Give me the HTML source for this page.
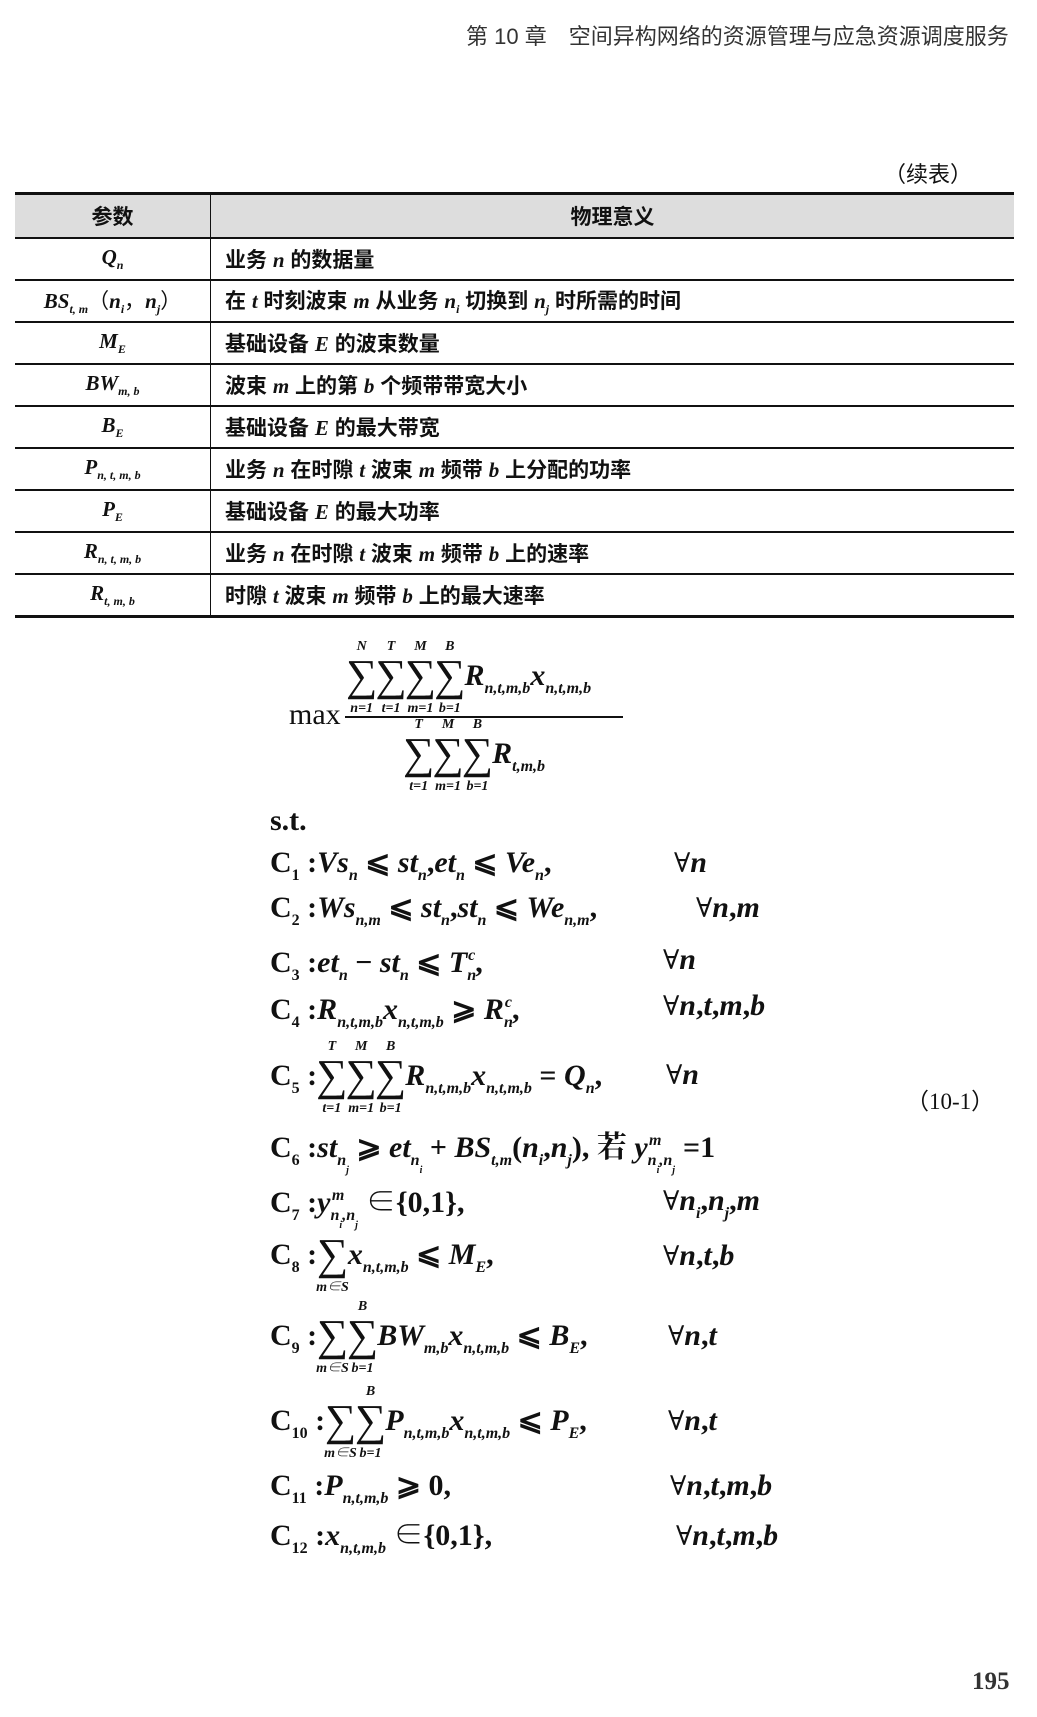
<!DOCTYPE html>
<html><head><meta charset="utf-8">
<style>
body{margin:0;width:1037px;height:1717px;background:#fff;position:relative;overflow:hidden;color:#111;font-family:"Liberation Serif","Noto Sans CJK SC",serif;}
.abs{position:absolute;white-space:nowrap;}
.hdr{font-family:"Liberation Sans","Noto Sans CJK SC",sans-serif;font-size:22px;color:#333;}
.cj{font-family:"Liberation Sans","Noto Sans CJK SC",sans-serif;}
table{position:absolute;left:15px;top:192px;width:999px;border-collapse:collapse;}
td{height:40px;border-bottom:2px solid #111;font-size:21px;padding:0;}
tr.h td{background:#ddd;height:42px;border-top:3px solid #111;text-align:center;font-family:"Liberation Sans","Noto Sans CJK SC",sans-serif;font-weight:bold;}
td.a{width:195px;border-right:1.5px solid #111;text-align:center;}
td.b{padding-left:14px;font-family:"Liberation Sans","Noto Sans CJK SC",sans-serif;font-weight:bold;}
tr:last-child td{border-bottom:3px solid #111;}
i.m{font-family:"Liberation Serif",serif;font-style:italic;font-weight:bold;font-size:21px;}
i.m sub{font-size:12px;}
.eq{font-size:30px;font-weight:bold;font-family:"Liberation Serif","Noto Serif CJK SC",serif;}
.eq i{font-style:italic;}
.eq sub{font-size:16px;vertical-align:-8px;font-style:italic;}
.eq sup{font-size:16px;vertical-align:12px;font-style:italic;}
.fa{font-family:"DejaVu Serif",serif;font-weight:normal;font-size:27px;}
.s{display:inline-flex;flex-direction:column;align-items:center;vertical-align:middle;line-height:1;margin:0 -1px;}
.s b{font-size:44px;font-weight:normal;line-height:36px;height:36px;}
.s i.u{font-size:14px;font-style:italic;height:14px;margin-bottom:4px;}
.s i.l{font-size:14px;font-style:italic;height:14px;margin-top:8px;}
.c{line-height:36px;}
</style></head><body>
<div class="abs hdr" style="left:466px;top:19px;">第 10 章　空间异构网络的资源管理与应急资源调度服务</div>
<div class="abs cj" style="left:884px;top:157px;font-size:22px;">（续表）</div>
<table>
<tr class="h"><td class="a">参数</td><td style="text-align:center">物理意义</td></tr>
<tr><td class="a"><i class="m">Q<sub>n</sub></i></td><td class="b">业务 <i class="m">n</i> 的数据量</td></tr>
<tr><td class="a"><i class="m">BS<sub>t, m</sub></i>（<i class="m">n<sub>i</sub></i>，<i class="m">n<sub>j</sub></i>）</td><td class="b">在 <i class="m">t</i> 时刻波束 <i class="m">m</i> 从业务 <i class="m">n<sub>i</sub></i> 切换到 <i class="m">n<sub>j</sub></i> 时所需的时间</td></tr>
<tr><td class="a"><i class="m">M<sub>E</sub></i></td><td class="b">基础设备 <i class="m">E</i> 的波束数量</td></tr>
<tr><td class="a"><i class="m">BW<sub>m, b</sub></i></td><td class="b">波束 <i class="m">m</i> 上的第 <i class="m">b</i> 个频带带宽大小</td></tr>
<tr><td class="a"><i class="m">B<sub>E</sub></i></td><td class="b">基础设备 <i class="m">E</i> 的最大带宽</td></tr>
<tr><td class="a"><i class="m">P<sub>n, t, m, b</sub></i></td><td class="b">业务 <i class="m">n</i> 在时隙 <i class="m">t</i> 波束 <i class="m">m</i> 频带 <i class="m">b</i> 上分配的功率</td></tr>
<tr><td class="a"><i class="m">P<sub>E</sub></i></td><td class="b">基础设备 <i class="m">E</i> 的最大功率</td></tr>
<tr><td class="a"><i class="m">R<sub>n, t, m, b</sub></i></td><td class="b">业务 <i class="m">n</i> 在时隙 <i class="m">t</i> 波束 <i class="m">m</i> 频带 <i class="m">b</i> 上的速率</td></tr>
<tr><td class="a"><i class="m">R<sub>t, m, b</sub></i></td><td class="b">时隙 <i class="m">t</i> 波束 <i class="m">m</i> 频带 <i class="m">b</i> 上的最大速率</td></tr>
</table>

<div class="abs eq" style="left:289px;top:698px;font-weight:normal;">max</div>
<div class="abs" style="left:345px;top:716px;width:278px;height:2px;background:#111;"></div>
<div class="abs eq" style="left:347px;top:640px;"><span class="s"><i class="u">N</i><b>∑</b><i class="l">n=1</i></span><span class="s"><i class="u">T</i><b>∑</b><i class="l">t=1</i></span><span class="s"><i class="u">M</i><b>∑</b><i class="l">m=1</i></span><span class="s"><i class="u">B</i><b>∑</b><i class="l">b=1</i></span><i>R</i><sub>n,t,m,b</sub><i>x</i><sub>n,t,m,b</sub></div>
<div class="abs eq" style="left:404px;top:718px;"><span class="s"><i class="u">T</i><b>∑</b><i class="l">t=1</i></span><span class="s"><i class="u">M</i><b>∑</b><i class="l">m=1</i></span><span class="s"><i class="u">B</i><b>∑</b><i class="l">b=1</i></span><i>R</i><sub>t,m,b</sub></div>

<div class="abs eq c" style="left:270px;top:803px;">s.t.</div>
<div class="abs eq c" style="left:270px;top:845px;">C<sub style="font-style:normal">1</sub> :<i>Vs</i><sub>n</sub> ⩽ <i>st</i><sub>n</sub>,<i>et</i><sub>n</sub> ⩽ <i>Ve</i><sub>n</sub>,</div>
<div class="abs eq c" style="left:674px;top:845px;"><span class="fa">∀</span><i>n</i></div>
<div class="abs eq c" style="left:270px;top:890px;">C<sub style="font-style:normal">2</sub> :<i>Ws</i><sub>n,m</sub> ⩽ <i>st</i><sub>n</sub>,<i>st</i><sub>n</sub> ⩽ <i>We</i><sub>n,m</sub>,</div>
<div class="abs eq c" style="left:696px;top:890px;"><span class="fa">∀</span><i>n</i>,<i>m</i></div>
<div class="abs eq c" style="left:270px;top:938px;">C<sub style="font-style:normal">3</sub> :<i>et</i><sub>n</sub> − <i>st</i><sub>n</sub> ⩽ <i>T</i><sub>n</sub><sup style="margin-left:-8px">c</sup>,</div>
<div class="abs eq c" style="left:663px;top:942px;"><span class="fa">∀</span><i>n</i></div>
<div class="abs eq c" style="left:270px;top:985px;">C<sub style="font-style:normal">4</sub> :<i>R</i><sub>n,t,m,b</sub><i>x</i><sub>n,t,m,b</sub> ⩾ <i>R</i><sub>n</sub><sup style="margin-left:-8px">c</sup>,</div>
<div class="abs eq c" style="left:663px;top:988px;"><span class="fa">∀</span><i>n</i>,<i>t</i>,<i>m</i>,<i>b</i></div>
<div class="abs eq" style="left:270px;top:1040px;">C<sub style="font-style:normal">5</sub> :<span class="s"><i class="u">T</i><b>∑</b><i class="l">t=1</i></span><span class="s"><i class="u">M</i><b>∑</b><i class="l">m=1</i></span><span class="s"><i class="u">B</i><b>∑</b><i class="l">b=1</i></span><i>R</i><sub>n,t,m,b</sub><i>x</i><sub>n,t,m,b</sub> = <i>Q</i><sub>n</sub>,</div>
<div class="abs eq c" style="left:666px;top:1057px;"><span class="fa">∀</span><i>n</i></div>
<div class="abs" style="left:906px;top:1082px;font-size:23px;font-family:'Liberation Serif','Noto Sans CJK SC',serif;">（10-1）</div>
<div class="abs eq c" style="left:270px;top:1123px;">C<sub style="font-style:normal">6</sub> :<i>st</i><sub>n<sub style="font-size:10px">j</sub></sub> ⩾ <i>et</i><sub>n<sub style="font-size:10px">i</sub></sub> + <i>BS</i><sub>t,m</sub>(<i>n</i><sub>i</sub>,<i>n</i><sub>j</sub>), 若 <i>y</i><sub>n<sub style="font-size:10px">i</sub>,n<sub style="font-size:10px">j</sub></sub><sup style="margin-left:-26px;margin-right:14px">m</sup> =1</div>
<div class="abs eq c" style="left:270px;top:1178px;">C<sub style="font-style:normal">7</sub> :<i>y</i><sub>n<sub style="font-size:10px">i</sub>,n<sub style="font-size:10px">j</sub></sub><sup style="margin-left:-26px;margin-right:14px">m</sup> ∈{0,1},</div>
<div class="abs eq c" style="left:663px;top:1183px;"><span class="fa">∀</span><i>n</i><sub>i</sub>,<i>n</i><sub>j</sub>,<i>m</i></div>
<div class="abs eq" style="left:270px;top:1219px;">C<sub style="font-style:normal">8</sub> :<span class="s"><i class="u"></i><b>∑</b><i class="l">m∈S</i></span><i>x</i><sub>n,t,m,b</sub> ⩽ <i>M</i><sub>E</sub>,</div>
<div class="abs eq c" style="left:663px;top:1238px;"><span class="fa">∀</span><i>n</i>,<i>t</i>,<i>b</i></div>
<div class="abs eq" style="left:270px;top:1300px;">C<sub style="font-style:normal">9</sub> :<span class="s"><i class="u"></i><b>∑</b><i class="l">m∈S</i></span><span class="s"><i class="u">B</i><b>∑</b><i class="l">b=1</i></span><i>BW</i><sub>m,b</sub><i>x</i><sub>n,t,m,b</sub> ⩽ <i>B</i><sub>E</sub>,</div>
<div class="abs eq c" style="left:668px;top:1318px;"><span class="fa">∀</span><i>n</i>,<i>t</i></div>
<div class="abs eq" style="left:270px;top:1385px;">C<sub style="font-style:normal">10</sub> :<span class="s"><i class="u"></i><b>∑</b><i class="l">m∈S</i></span><span class="s"><i class="u">B</i><b>∑</b><i class="l">b=1</i></span><i>P</i><sub>n,t,m,b</sub><i>x</i><sub>n,t,m,b</sub> ⩽ <i>P</i><sub>E</sub>,</div>
<div class="abs eq c" style="left:668px;top:1403px;"><span class="fa">∀</span><i>n</i>,<i>t</i></div>
<div class="abs eq c" style="left:270px;top:1468px;">C<sub style="font-style:normal">11</sub> :<i>P</i><sub>n,t,m,b</sub> ⩾ 0,</div>
<div class="abs eq c" style="left:670px;top:1468px;"><span class="fa">∀</span><i>n</i>,<i>t</i>,<i>m</i>,<i>b</i></div>
<div class="abs eq c" style="left:270px;top:1518px;">C<sub style="font-style:normal">12</sub> :<i>x</i><sub>n,t,m,b</sub> ∈{0,1},</div>
<div class="abs eq c" style="left:676px;top:1518px;"><span class="fa">∀</span><i>n</i>,<i>t</i>,<i>m</i>,<i>b</i></div>

<div class="abs" style="left:972px;top:1668px;font-size:25px;font-weight:bold;color:#333;font-family:'Liberation Serif',serif;">195</div>
</body></html>
